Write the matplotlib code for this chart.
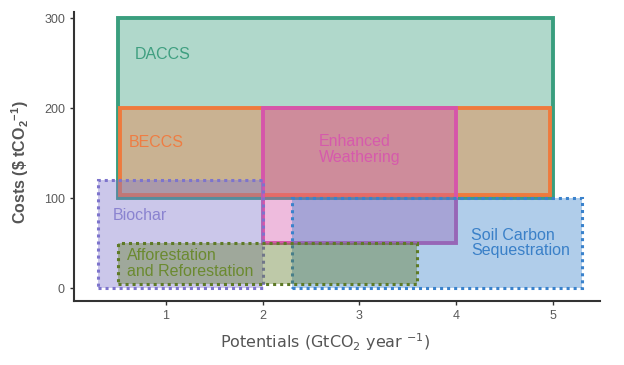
import matplotlib
matplotlib.use("Agg")
import matplotlib.pyplot as plt
from matplotlib.patches import Rectangle

# removal options: potential range (GtCO2/yr) and cost range ($/tCO2)
names = ["DACCS", "BECCS", "Enhanced\nWeathering", "Biochar",
         "Soil Carbon\nSequestration", "Afforestation\nand Reforestation"]
x_min = [0.5, 0.53, 2.0, 0.3, 2.3, 0.5]
x_max = [5.0, 4.97, 4.0, 2.0, 5.3, 3.6]
y_min = [100, 103, 50, 0, 0, 5]
y_max = [300, 200, 200, 120, 100, 50]
label_x = [0.68, 0.62, 2.58, 0.45, 4.16, 0.6]
label_y = [259, 162, 154, 81, 50, 27]

colors = ["#3a9e7e", "#ef7a3d", "#d655aa", "#7d74cc", "#3a82cc", "#5e7a26"]
text_colors = ["#3f9f80", "#ef7d43", "#d65aac", "#8a83d0", "#3a80c8", "#6b8a30"]
styles = ["-", "-", "-", (0, (1, 1.3)), (0, (1, 1.3)), (0, (1, 1.3))]
widths = [2.8, 2.8, 2.8, 2.2, 2.2, 2.2]

fig = plt.figure(figsize=(6.24, 3.65), dpi=100)
ax = fig.add_axes([0.1186, 0.1753, 0.843, 0.7918])

for i in range(len(names)):
    ax.add_patch(Rectangle((x_min[i], y_min[i]), x_max[i] - x_min[i], y_max[i] - y_min[i],
                           facecolor=colors[i], alpha=0.4, edgecolor="none"))
    ax.add_patch(Rectangle((x_min[i], y_min[i]), x_max[i] - x_min[i], y_max[i] - y_min[i],
                           facecolor="none", edgecolor=colors[i], linewidth=widths[i],
                           linestyle=styles[i]))

for i in range(len(names)):
    ax.text(label_x[i], label_y[i], names[i], color=text_colors[i], fontsize=11.5,
            family="Liberation Sans", ha="left", va="center", linespacing=1.05)

ax.set_xlim(0.05, 5.49)
ax.set_ylim(-14.4, 306.7)
ax.set_xticks([1, 2, 3, 4, 5])
ax.set_yticks([0, 100, 200, 300])

for s in ["top", "right"]:
    ax.spines[s].set_visible(False)
for s in ["left", "bottom"]:
    ax.spines[s].set_linewidth(1.5)
    ax.spines[s].set_color("#333333")

ax.tick_params(length=3, width=1, color="#333333", labelcolor="#5a5a5a", labelsize=9)
for lab in ax.get_xticklabels() + ax.get_yticklabels():
    lab.set_family("Liberation Sans")

ax.set_xlabel(r"Potentials (GtCO$_\mathregular{2}$ year $^\mathregular{-1}$)",
              fontsize=11.5, color="#555555", family="DejaVu Sans")
ax.xaxis.set_label_coords(0.477, -0.142)
ax.xaxis.label.set_va("center")
ax.set_ylabel(r"Costs (\$ tCO$_\mathregular{2}$$^\mathregular{-1}$)",
              fontsize=11.5, color="#555555", family="Liberation Sans", fontweight="bold")
ax.yaxis.set_label_coords(-0.103, 0.48)
ax.yaxis.label.set_va("center")

fig.savefig("out.png", dpi=100)
